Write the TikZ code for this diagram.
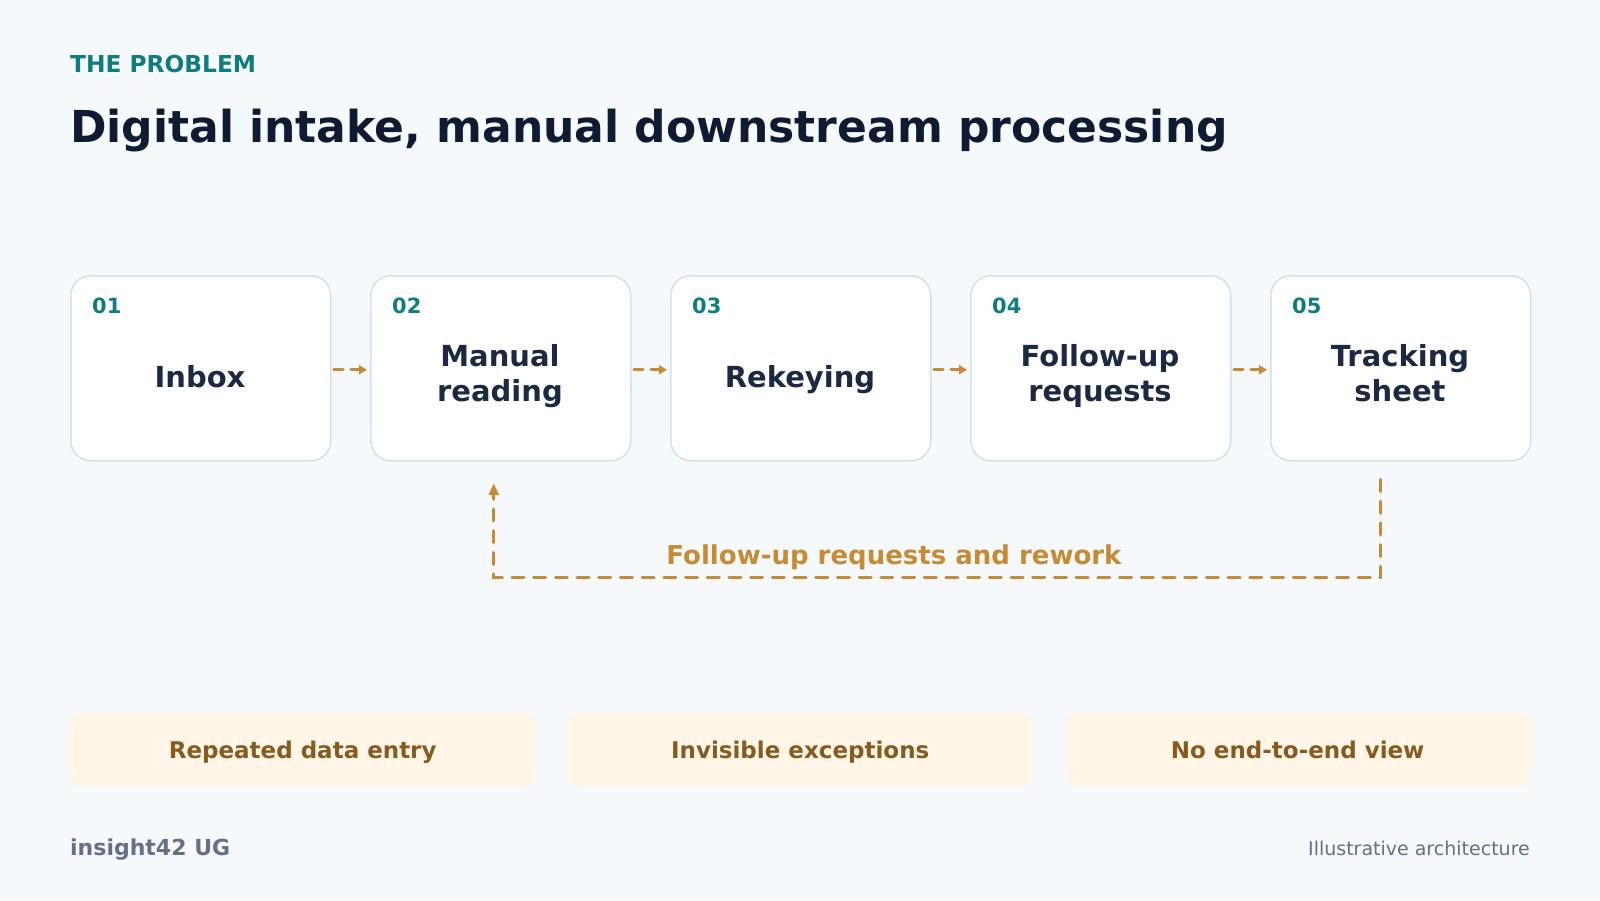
\documentclass[tikz,border=0pt]{standalone}
\usepackage{fontspec}
\setmainfont{DejaVu Sans}
\usetikzlibrary{arrows.meta,calc}
\definecolor{bgc}{HTML}{F5F9FC}
\definecolor{titlec}{HTML}{0F1B33}
\definecolor{tealc}{HTML}{0E7C80}
\definecolor{boxline}{HTML}{D6E0EA}
\definecolor{boxtext}{HTML}{1B2A42}
\definecolor{orangec}{HTML}{C68B36}
\definecolor{creamc}{HTML}{FFF6E8}
\definecolor{brownc}{HTML}{875A1E}
\definecolor{grayc}{HTML}{647087}
\begin{document}
\begin{tikzpicture}[x=1pt,y=-1pt,
  stepbox/.style={draw=boxline, line width=1.5pt, fill=white, rounded corners=20pt,
    minimum width=260pt, minimum height=185pt, anchor=north west, inner sep=0pt},
  num/.style={anchor=base west, text=tealc, font=\fontsize{21}{25}\selectfont\bfseries, inner sep=0pt},
  lbl/.style={align=center, text=boxtext, font=\fontsize{29}{34.5}\selectfont\bfseries, inner sep=0pt},
  one/.style={text depth=0pt},
  two/.style={text depth=6.8pt},
  flow/.style={draw=orangec, line width=3.2pt, dash pattern=on 9pt off 8pt, line cap=round,
    -{Triangle[length=8pt,width=9pt]}},
  loopline/.style={draw=orangec, line width=3.2pt, dash pattern=on 12pt off 9.7pt, line cap=round,
    -{Triangle[length=12pt,width=10pt]}},
  issue/.style={fill=creamc, rounded corners=10pt, minimum width=465pt, minimum height=73pt,
    anchor=north west, inner sep=0pt, text=brownc, font=\fontsize{23}{27}\selectfont\bfseries,
    text height=17pt, text depth=0pt},
]
\fill[bgc] (0,0) rectangle (1600,900);
\useasboundingbox (0,0) rectangle (1600,900);

% header
\node[anchor=base west, inner sep=0pt, text=tealc, font=\fontsize{23.3}{27}\selectfont\bfseries] (kicker) at (70,72.5) {THE PROBLEM};
\node[anchor=base west, inner sep=0pt, text=titlec, font=\fontsize{44}{52}\selectfont\bfseries] (title) at (70,142.5) {Digital intake, manual downstream processing};

% process boxes
\node[stepbox] (b1) at (70,275) {};
\node[stepbox] (b2) at (370,275) {};
\node[stepbox] (b3) at (670,275) {};
\node[stepbox] (b4) at (970,275) {};
\node[stepbox] (b5) at (1270,275) {};

\node[num] (n1) at (92,313) {01};
\node[num] (n2) at (392,313) {02};
\node[num] (n3) at (692,313) {03};
\node[num] (n4) at (992,313) {04};
\node[num] (n5) at (1292,313) {05};

\node[lbl,one] (t1) at (200,376.5) {Inbox};
\node[lbl,two] (t2) at (500,376.5) {Manual\\reading};
\node[lbl,one] (t3) at (800,376.5) {Rekeying};
\node[lbl,two] (t4) at (1100,376.5) {Follow-up\\requests};
\node[lbl,two] (t5) at (1400,376.5) {Tracking\\sheet};

% forward arrows
\draw[flow] ([xshift=2.5pt,yshift=-1.5pt]b1.east) -- ([xshift=-3pt,yshift=-1.5pt]b2.west);
\draw[flow] ([xshift=2.5pt,yshift=-1.5pt]b2.east) -- ([xshift=-3pt,yshift=-1.5pt]b3.west);
\draw[flow] ([xshift=2.5pt,yshift=-1.5pt]b3.east) -- ([xshift=-3pt,yshift=-1.5pt]b4.west);
\draw[flow] ([xshift=2.5pt,yshift=-1.5pt]b4.east) -- ([xshift=-3pt,yshift=-1.5pt]b5.west);

% feedback loop
\coordinate (ls) at ($(b5.south)+(-20,18)$);
\coordinate (le) at ($(b2.south)+(-7,21.7)$);
\coordinate (lbot) at (0,577.5);
\draw[loopline] (ls) -- (ls |- lbot) -- (le |- lbot) -- (le);
\node[anchor=base, inner sep=0pt, text=orangec, font=\fontsize{26}{30}\selectfont\bfseries] (loopl) at (894,564) {Follow-up requests and rework};

% issues
\node[issue] (p1) at (70,713) {Repeated data entry};
\node[issue] (p2) at (567.5,713) {Invisible exceptions};
\node[issue] (p3) at (1065,713) {No end-to-end view};

% footer
\node[anchor=base west, inner sep=0pt, text=grayc, font=\fontsize{22}{26}\selectfont\bfseries] (brand) at (70,855) {insight42 UG};
\node[anchor=base east, inner sep=0pt, text=grayc, font=\fontsize{19}{23}\selectfont] (note) at (1530,855) {Illustrative architecture};
\end{tikzpicture}
\end{document}
